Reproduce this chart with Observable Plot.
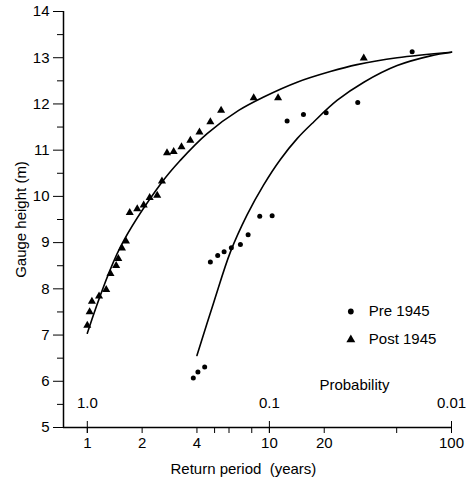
<!DOCTYPE html>
<html><head><meta charset="utf-8">
<script src="https://cdn.jsdelivr.net/npm/d3@7"></script>
<script src="https://cdn.jsdelivr.net/npm/@observablehq/plot@0.6"></script>
<style>body{margin:0;background:#fff}</style>
</head><body><div id="chart"></div>
<script>
// Post 1945 observations (triangles)
const postReturn = [1.00, 1.03, 1.06, 1.16, 1.27, 1.34, 1.44, 1.48, 1.55, 1.63, 1.71, 1.88, 2.04, 2.20, 2.42, 2.57, 2.74, 2.98, 3.29, 3.68, 4.13, 4.74, 5.43, 8.20, 11.16, 32.97];
const postHeight = [7.21, 7.50, 7.73, 7.84, 7.98, 8.33, 8.50, 8.65, 8.88, 9.03, 9.65, 9.73, 9.81, 9.97, 10.02, 10.33, 10.94, 10.97, 11.07, 11.21, 11.39, 11.61, 11.86, 12.13, 12.13, 12.99];
// Pre 1945 observations (circles)
const preReturn = [3.82, 4.05, 4.41, 4.74, 5.20, 5.64, 6.18, 6.93, 7.64, 8.85, 10.35, 12.51, 15.38, 20.49, 30.56, 60.8];
const preHeight = [6.07, 6.20, 6.31, 8.58, 8.72, 8.80, 8.89, 8.96, 9.17, 9.57, 9.58, 11.63, 11.77, 11.81, 12.03, 13.13];
// fitted curves
const postCurveX = [1.0, 1.518, 2.573, 3.24, 4.55, 6.78, 9.30, 14.2, 21.6, 30.3, 50.3, 100];
const postCurveY = [7.04, 8.90, 10.31, 10.78, 11.36, 11.86, 12.15, 12.47, 12.70, 12.85, 13.00, 13.12];
const preCurveX = [4.0, 4.94, 6.11, 7.54, 9.30, 11.49, 14.2, 17.5, 23.6, 33.0, 50.3, 76.7, 100];
const preCurveY = [6.56, 7.70, 8.80, 9.60, 10.25, 10.80, 11.25, 11.61, 12.08, 12.47, 12.83, 13.04, 13.12];
// axes
const yMajor = [5, 6, 7, 8, 9, 10, 11, 12, 13, 14];
const yMinor = [5.5, 6.5, 7.5, 8.5, 9.5, 10.5, 11.5, 12.5, 13.5];
const xTicks = [1, 2, 4, 5, 6, 8, 10, 20, 50, 100];
const probTicks = [1, 10, 100];
const probLabels = ["1.0", "0.1", "0.01"];
const legendNames = ["Pre 1945", "Post 1945"];
const legendSymbols = ["circle", "triangle"];

const post = postReturn.map((x, i) => ({x, y: postHeight[i]}));
const pre = preReturn.map((x, i) => ({x, y: preHeight[i]}));
const postCurve = postCurveX.map((x, i) => ({x, y: postCurveY[i]}));
const preCurve = preCurveX.map((x, i) => ({x, y: preCurveY[i]}));
const prob = probTicks.map((x, i) => ({x, label: probLabels[i]}));
const legend = legendNames.map((name, i) => ({name, symbol: legendSymbols[i], y: [7.51, 6.90][i]}));

const xMin = 0.74, yMin = 5;

const chart = Plot.plot({
  width: 469, height: 489,
  marginLeft: 63, marginRight: 18, marginTop: 11, marginBottom: 62,
  style: {fontFamily: "'Liberation Sans', Arial, sans-serif", fontSize: "14px", color: "#000", background: "#fff", overflow: "visible"},
  x: {type: "log", domain: [xMin, 100]},
  y: {domain: [5, 14]},
  marks: [
    Plot.axisY({ticks: yMajor, tickSize: 10, tickPadding: 4, fontSize: 15, label: "Gauge height (m)", labelAnchor: "center", labelArrow: "none", labelOffset: 48}),
    Plot.axisY({ticks: yMinor, tickSize: 6, text: null, label: null}),
    Plot.axisX({ticks: xTicks, tickSize: 6, tickPadding: 4, fontSize: 15, tickFormat: d => String(d), label: null}),
    Plot.axisX({ticks: probTicks, tickSize: 12, dy: -6, text: null, label: null}),
    Plot.ruleX([xMin], {strokeWidth: 1.5}),
    Plot.ruleY([yMin], {strokeWidth: 1.5}),
    Plot.text(prob, {x: "x", y: () => yMin, text: "label", dy: -24, fontSize: 15}),
    Plot.text(["Probability"], {x: () => 29.3, y: () => yMin, text: d => d, dy: -42, fontSize: 15}),
    Plot.text(["Return period  (years)"], {x: () => 7.2, y: () => yMin, text: d => d, dy: 42, fontSize: 15}),
    Plot.line(postCurve, {x: "x", y: "y", curve: "catmull-rom", stroke: "#000", strokeWidth: 1.6}),
    Plot.line(preCurve, {x: "x", y: "y", curve: "catmull-rom", stroke: "#000", strokeWidth: 1.6}),
    Plot.dot(post, {x: "x", y: "y", symbol: "triangle", r: 3, fill: "#000"}),
    Plot.dot(pre, {x: "x", y: "y", symbol: "circle", r: 2.5, fill: "#000"}),
    Plot.dot(legend, {x: () => 28, y: "y", symbol: "symbol", r: d => d.symbol === "circle" ? 2 : 2.6, fill: "#000"}),
    Plot.text(legend, {x: () => 28, y: "y", text: "name", dx: 18, textAnchor: "start", fontSize: 15})
  ]
});
document.getElementById("chart").appendChild(chart);
</script>
</body></html>
